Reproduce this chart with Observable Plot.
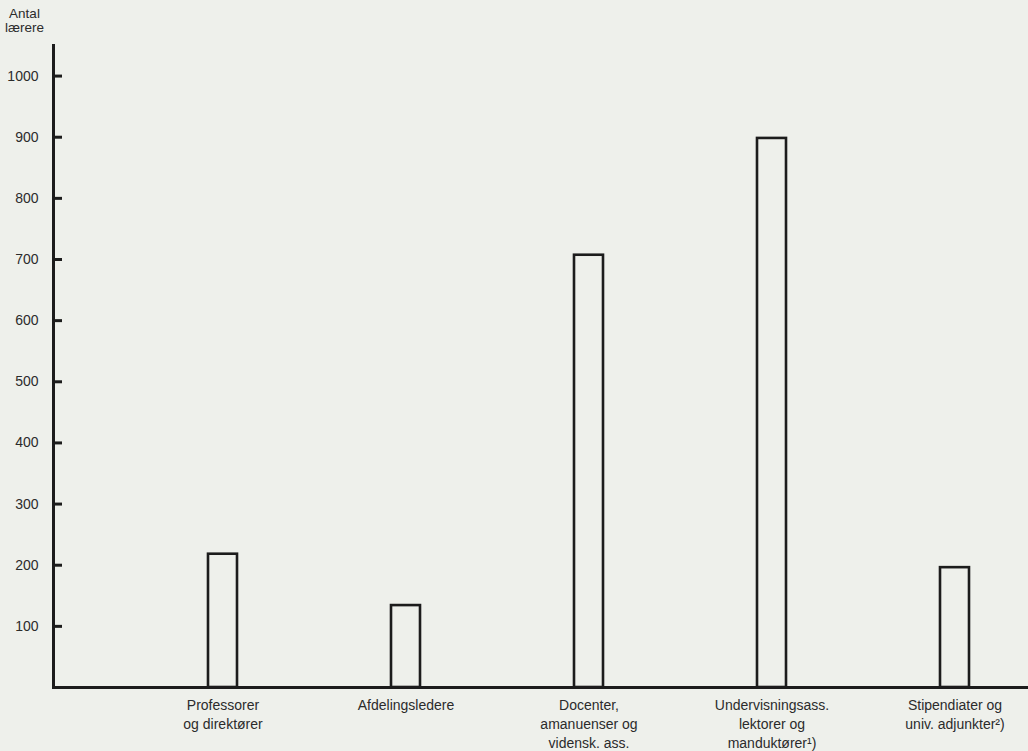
<!DOCTYPE html>
<html>
<head>
<meta charset="utf-8">
<script src="https://cdn.jsdelivr.net/npm/d3@7"></script>
<script src="https://cdn.jsdelivr.net/npm/@observablehq/plot@0.6"></script>
<style>
  html, body { margin: 0; padding: 0; background: #eef0eb; }
  #chart svg { display: block; }
</style>
</head>
<body>
<div id="chart"></div>
<script>
const categories = [
  "Professorer\nog direktører",
  "Afdelingsledere",
  "Docenter,\namanuenser og\nvidensk. ass.",
  "Undervisningsass.\nlektorer og\nmanduktører¹)",
  "Stipendiater og\nuniv. adjunkter²)"
];
const values = [218, 134, 707, 898, 196];
const yTicks = [100, 200, 300, 400, 500, 600, 700, 800, 900, 1000];
const yLabel = "Antal\nlærere";

const data = categories.map((c, i) => ({category: c, value: values[i]}));
const ink = "#1c1c1c";
const textInk = "#2b2b2b";
const bg = "#eef0eb";

const chart = Plot.plot({
  width: 1028,
  height: 751,
  marginLeft: 53,
  marginRight: 0,
  marginTop: 45,
  marginBottom: 64,
  style: {background: bg, fontFamily: "'Liberation Sans', Arial, sans-serif", color: textInk},
  x: {domain: categories, paddingInner: 0.84, paddingOuter: 0.57, align: 0.725, label: null},
  y: {domain: [0, 1050], label: null},
  marks: [
    Plot.barY(data, {x: "category", y: "value", fill: bg, stroke: ink, strokeWidth: 2.6}),
    Plot.frame({anchor: "left", stroke: ink, strokeWidth: 3}),
    Plot.ruleY([0], {stroke: ink, strokeWidth: 3}),
    Plot.axisY({ticks: yTicks, tickSize: -9, tickFormat: () => "", stroke: ink, strokeWidth: 3, label: null}),
    Plot.axisY({ticks: yTicks, tickSize: 0, tickPadding: 15, tickFormat: d3.format("d"), fontSize: 14, fill: textInk, label: null}),
    Plot.axisX({tickSize: 0, tickPadding: 9, fontSize: 14, lineHeight: 1.36, fill: textInk, label: null, textAnchor: "middle"}),
    Plot.text([yLabel], {frameAnchor: "top-left", dx: -29, dy: -37, textAnchor: "middle", lineAnchor: "top", fontSize: 13.5, lineHeight: 1.02, fill: textInk})
  ]
});
document.getElementById("chart").appendChild(chart);
</script>
</body>
</html>
